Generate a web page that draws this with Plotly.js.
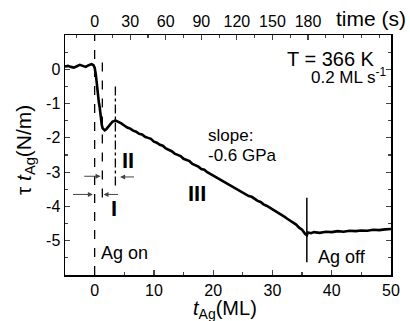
<!DOCTYPE html>
<html>
<head>
<meta charset="utf-8">
<script src="https://cdn.plot.ly/plotly-3.0.1.min.js"></script>
<style>html,body{margin:0;padding:0;background:#fff;}#chart{width:410px;height:321px;}</style>
</head>
<body>
<div id="chart"></div>
<script>
// coverage t_Ag (ML)
const coverage = [-5.0,-4.5,-4.0,-3.5,-3.0,-2.5,-2.0,-1.5,-1.0,-0.5,-0.2,0.0,0.2,0.35,0.5,0.7,0.85,1.0,1.2,1.35,1.7,2.0,2.5,3.0,3.5,3.9,4.5,
 5.0,5.5,6.0,6.5,7.0,7.5,8.0,8.5,9.0,9.5,10.0,10.5,11.0,11.5,12.0,12.5,13.0,13.5,14.0,14.5,15.0,15.5,16.0,16.5,17.0,17.5,18.0,18.5,19.0,19.5,
 20.0,20.5,21.0,21.5,22.0,22.5,23.0,23.5,24.0,24.5,25.0,25.5,26.0,26.5,27.0,27.5,28.0,28.5,29.0,29.5,30.0,30.5,31.0,31.5,32.0,32.5,33.0,33.5,
 34.0,34.5,35.0,35.5,35.8,36.0,36.5,37,38,39,40,41,42,43,44,45,46,47,48,49,50];
// stress tau*t_Ag (N/m)
const stress = [0.08,0.10,0.07,0.05,0.09,0.13,0.10,0.07,0.12,0.15,0.12,0.05,-0.15,-0.40,-0.75,-0.95,-1.10,-1.35,-1.62,-1.72,-1.78,-1.74,-1.62,-1.53,-1.49,-1.52,-1.58,
 -1.64,-1.70,-1.73,-1.79,-1.82,-1.88,-1.90,-1.97,-2.00,-2.03,-2.11,-2.14,-2.20,-2.23,-2.31,-2.35,-2.39,-2.46,-2.49,-2.53,-2.61,-2.64,-2.68,-2.76,-2.79,-2.84,-2.91,-2.93,-3.00,-3.05,
 -3.08,-3.15,-3.19,-3.23,-3.30,-3.33,-3.40,-3.44,-3.48,-3.55,-3.58,-3.63,-3.70,-3.72,-3.79,-3.84,-3.87,-3.94,-3.98,-4.03,-4.09,-4.13,-4.19,-4.25,-4.30,-4.36,-4.42,-4.47,
 -4.53,-4.62,-4.68,-4.80,-4.84,-4.76,-4.78,-4.75,-4.77,-4.74,-4.75,-4.72,-4.74,-4.71,-4.72,-4.70,-4.71,-4.68,-4.69,-4.67,-4.66];

const xTicks = [0,10,20,30,40,50];
const yTicks = [-5,-4,-3,-2,-1,0];
const yTickText = ["-5","-4","-3","-2","-1","0"];
const timeTicks = [0,30,60,90,120,150,180];
const rate = 0.2; // ML per second

const FONT = "Liberation Sans, Arial, sans-serif";

const traces = [
  {x: coverage, y: stress, mode: "lines", line: {color: "#000", width: 2.6}, xaxis: "x", yaxis: "y", hoverinfo: "skip"},
  {x: [0], y: [0], mode: "markers", marker: {opacity: 0}, xaxis: "x2", yaxis: "y", hoverinfo: "skip"}
];

const xRange = [-5, 50];
const C = {xanchor: "center", yanchor: "middle", showarrow: false};
const layout = {
  width: 410, height: 321,
  margin: {l: 65, r: 19, t: 35, b: 46},
  paper_bgcolor: "#fff", plot_bgcolor: "#fff",
  showlegend: false,
  font: {family: FONT, color: "#000", size: 16},
  xaxis: {range: xRange, tickvals: xTicks, ticks: "inside", ticklen: 5, tickwidth: 1.2,
    minor: {dtick: 5, ticks: "inside", ticklen: 3}, showline: true, linewidth: 1.5, linecolor: "#000",
    showgrid: false, zeroline: false, tickfont: {size: 16}},
  xaxis2: {range: [xRange[0] / rate, xRange[1] / rate], overlaying: "x", side: "top", tickvals: timeTicks,
    ticks: "inside", ticklen: 5, tickwidth: 1.2, minor: {dtick: 15, ticks: "inside", ticklen: 3},
    showline: true, linewidth: 1.5, linecolor: "#000", showgrid: false, zeroline: false, tickfont: {size: 16}},
  yaxis: {range: [-6, 1], tickvals: yTicks, ticktext: yTickText, ticks: "inside", ticklen: 5, tickwidth: 1.2,
    minor: {dtick: 0.5, ticks: "inside", ticklen: 3}, showline: true, mirror: "ticks", linewidth: 1.5, linecolor: "#000",
    showgrid: false, zeroline: false, tickfont: {size: 16}},
  shapes: [
    {type: "line", xref: "x", yref: "y", x0: 0, x1: 0, y0: -6, y1: 1, line: {color: "#000", width: 1.3, dash: "dash"}},
    {type: "line", xref: "x", yref: "y", x0: 1.3, x1: 1.3, y0: 0.2, y1: -3.75, line: {color: "#000", width: 1.3, dash: "dash"}},
    {type: "line", xref: "x", yref: "y", x0: 3.5, x1: 3.5, y0: -0.5, y1: -3.4, line: {color: "#000", width: 1.3, dash: "dashdot"}},
    {type: "line", xref: "x", yref: "y", x0: 35.8, x1: 35.8, y0: -3.75, y1: -5.63, line: {color: "#000", width: 1.5}}
  ],
  annotations: [
    Object.assign({xref: "paper", yref: "paper", x: -0.123, y: 0.52, text: "τ <i>t</i><sub>Ag</sub>(N/m)", textangle: -90, font: {size: 21}}, C),
    Object.assign({xref: "paper", yref: "paper", x: 0.49, y: -0.145, text: "<i>t</i><sub>Ag</sub>(ML)", font: {size: 20}}, C),
    Object.assign({xref: "paper", yref: "paper", x: 0.94, y: 1.07, text: "time (s)", font: {size: 21}}, C),
    {xref: "x", yref: "y", x: 47.6, y: 0.3, xanchor: "right", yanchor: "middle", text: "T = 366 K", showarrow: false, font: {size: 20}},
    {xref: "x", yref: "y", x: 49.7, y: -0.2, xanchor: "right", yanchor: "middle", text: "0.2 ML s<sup>-1</sup>", showarrow: false, font: {size: 17}},
    {xref: "x", yref: "y", x: 18.8, y: -1.93, xanchor: "left", yanchor: "middle", text: "slope:", showarrow: false, font: {size: 17}},
    {xref: "x", yref: "y", x: 18.8, y: -2.51, xanchor: "left", yanchor: "middle", text: "-0.6 GPa", showarrow: false, font: {size: 17}},
    {xref: "x", yref: "y", x: 0.7, y: -5.36, xanchor: "left", yanchor: "middle", text: "Ag on", showarrow: false, font: {size: 18}},
    {xref: "x", yref: "y", x: 37.3, y: -5.48, xanchor: "left", yanchor: "middle", text: "Ag off", showarrow: false, font: {size: 18}},
    Object.assign({xref: "x", yref: "y", x: 3.2, y: -4.05, text: "<b>I</b>", font: {size: 22}}, C),
    Object.assign({xref: "x", yref: "y", x: 5.6, y: -2.66, text: "<b>II</b>", font: {size: 22}}, C),
    Object.assign({xref: "x", yref: "y", x: 17.3, y: -3.62, text: "<b>III</b>", font: {size: 22}}, C),
    {xref: "x", yref: "y", axref: "x", ayref: "y", x: -0.3, y: -3.65, ax: -3.9, ay: -3.65, text: "", showarrow: true, arrowhead: 2, arrowsize: 1, arrowwidth: 1, standoff: 0},
    {xref: "x", yref: "y", axref: "x", ayref: "y", x: 1.5, y: -3.65, ax: 4.2, ay: -3.65, text: "", showarrow: true, arrowhead: 2, arrowsize: 1, arrowwidth: 1, standoff: 0},
    {xref: "x", yref: "y", axref: "x", ayref: "y", x: 1.0, y: -3.12, ax: -2.0, ay: -3.12, text: "", showarrow: true, arrowhead: 2, arrowsize: 1, arrowwidth: 1, standoff: 0},
    {xref: "x", yref: "y", axref: "x", ayref: "y", x: 4.3, y: -3.14, ax: 6.9, ay: -3.14, text: "", showarrow: true, arrowhead: 2, arrowsize: 1, arrowwidth: 1, standoff: 0}
  ]
};

Plotly.newPlot("chart", traces, layout, {staticPlot: true, displayModeBar: false});
</script>
</body>
</html>
